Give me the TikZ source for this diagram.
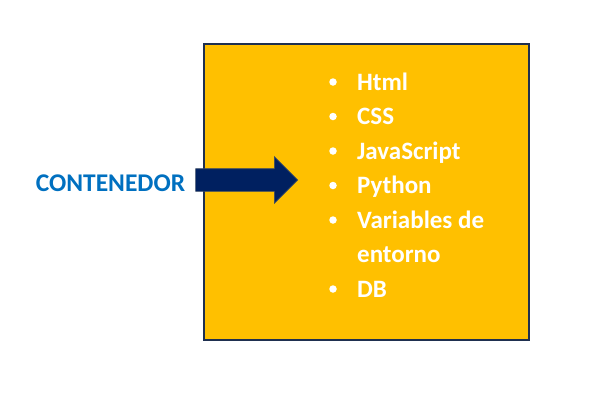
\documentclass[tikz,border=0pt]{standalone}
\usepackage{fontspec}
\setmainfont{Carlito}
\usepackage{tikz}
\usetikzlibrary{shapes.arrows,positioning}
\definecolor{amber}{HTML}{FFC000}
\definecolor{navy}{HTML}{002060}
\definecolor{frame}{HTML}{1F3050}
\definecolor{edge}{HTML}{3A4A66}
\definecolor{blue}{HTML}{0070C0}

\begin{document}
\begin{tikzpicture}[x=1pt,y=-1pt,
 container/.style={draw=frame,line width=2pt,fill=amber,minimum width=325pt,minimum height=296pt,inner sep=0pt},
 pointer/.style={single arrow,single arrow head extend=12pt,minimum height=102pt,inner xsep=0pt,inner ysep=11pt,fill=navy,draw=edge,line width=0.6pt},
 tag/.style={text=blue,font=\bfseries\fontsize{25.5}{30}\selectfont,inner sep=0pt},
 item/.style={text=white,font=\bfseries\fontsize{25}{34.5}\selectfont,inner sep=0pt,anchor=base west,align=left},
 dot/.style={circle,fill=white,inner sep=0pt,minimum size=7.5pt}]
 \useasboundingbox (0,0) rectangle (593,405);
 \node[container] (box) at (366.5,192) {};
 \node[pointer] (arrow) at (241,180) {};
 \node[tag,left=10pt of arrow,yshift=-3pt] (label) {CONTENEDOR};
 % list of contents (\b = baseline of the last line, \d = bullet)
 \foreach \name/\txt/\b/\d in {html/Html/90/82,css/CSS/124.5/116.5,js/JavaScript/159/151,py/Python/193.5/185.5,vars/Variables de\\entorno/262.5/220,db/DB/297/289}{
  \node[item] (\name) at (357,\b) {\txt};
  \node[dot] (dot-\name) at (333,\d) {};
 }
\end{tikzpicture}
\end{document}
